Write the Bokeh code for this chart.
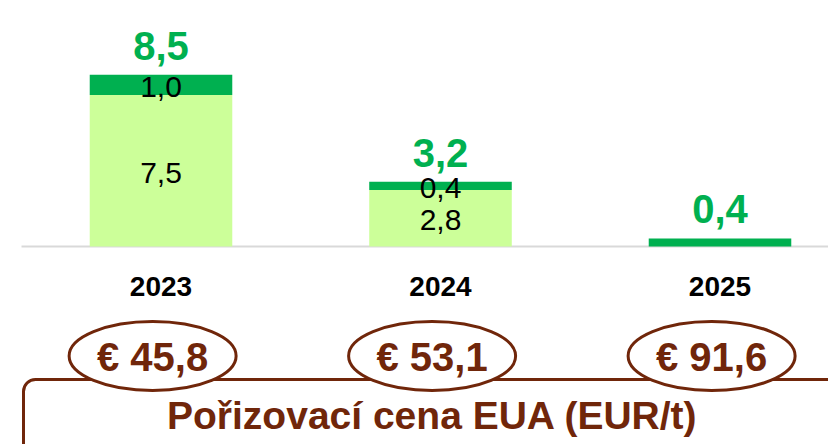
from bokeh.plotting import figure
from bokeh.models import ColumnDataSource, Range1d, BoxAnnotation
from bokeh.core.properties import value
from bokeh.embed import file_html
from bokeh.resources import INLINE

# ---- data ----
years = ["2023", "2024", "2025"]
base_vals = [7.5, 2.8, 0.0]      # light green segment
top_vals = [1.0, 0.4, 0.4]       # dark green segment
prices = [45.8, 53.1, 91.6]      # EUA purchase price (EUR/t)
title_text = "Pořizovací cena EUA (EUR/t)"

LIGHT = "#CCFF99"
DARK = "#00B050"
BROWN = "#70260A"
FONT = value("Liberation Sans")

def fmt(v):
    return f"{v:.1f}".replace(".", ",")

W, H = 828, 444
PX_X = 279.5   # px per category step
PX_Y = 20.2    # px per unit
CX0, BASE = 160.5, 246   # pixel position of first bar centre and baseline
x0 = (0 - CX0) / PX_X
x1 = (W - CX0) / PX_X
y1 = BASE / PX_Y
y0 = -(H - BASE) / PX_Y

def px_x(px):
    return (px - CX0) / PX_X

def px_y(py):
    return (BASE - py) / PX_Y

p = figure(width=W, height=H, output_backend="svg", toolbar_location=None,
           x_range=Range1d(x0, x1), y_range=Range1d(y0, y1),
           x_axis_type=None, y_axis_type=None, min_border=0,
           outline_line_color=None)
p.grid.visible = False
p.background_fill_color = "white"

xs = list(range(len(years)))
totals = [b + t for b, t in zip(base_vals, top_vals)]

# baseline
p.segment(x0=[px_x(21)], y0=[0], x1=[x1 + 1], y1=[0],
          line_color="#d9d9d9", line_width=2)

src = ColumnDataSource(dict(
    x=xs, base=base_vals, top=top_vals, total=totals,
    total_lbl=[fmt(v) for v in totals], year=years,
))
p.vbar(x="x", bottom=0, top="base", width=0.51, source=src,
       fill_color=LIGHT, line_color=None)
p.vbar(x="x", bottom="base", top="total", width=0.51, source=src,
       fill_color=DARK, line_color=None)

# inner labels (only where the light segment exists)
ix, iy, it = [], [], []
for x, b, t in zip(xs, base_vals, top_vals):
    if b > 0:
        ix += [x, x]
        iy += [b / 2, b + t / 2]
        it += [fmt(b), fmt(t)]
p.text(x=ix, y=iy, text=it, text_align="center", text_baseline="middle",
       y_offset=2, text_font=FONT, text_font_size="30px", text_color="black")

# totals
p.text(x="x", y="total", text="total_lbl", source=src, text_align="center",
       text_baseline="middle", y_offset=-29, text_font=FONT,
       text_font_size="40px", text_font_style="bold", text_color=DARK)

# year labels
p.text(x="x", y=0, text="year", source=src, text_align="center",
       text_baseline="middle", y_offset=40, text_font=FONT,
       text_font_size="28px", text_font_style="bold", text_color="black")

# rounded price box
box = BoxAnnotation(left=px_x(23), right=x1 + 1,
                    top=px_y(379), bottom=y0 - 2,
                    fill_color=None, fill_alpha=0, line_color=BROWN,
                    line_alpha=1, line_width=3,
                    border_radius=12, level="underlay")
p.add_layout(box)

# price ellipses
ey = px_y(355.5)
ex = [x - 0.03 for x in xs]
p.ellipse(x=ex, y=[ey] * len(xs), width=167, height=69,
          width_units="screen", height_units="screen",
          fill_color="white", line_color=BROWN, line_width=3)
p.text(x=ex, y=[ey] * len(xs), text=["€ " + fmt(v) for v in prices],
       text_align="center", text_baseline="middle", y_offset=1,
       text_font=FONT, text_font_size="40px", text_font_style="bold",
       text_color=BROWN)

# title inside box
p.text(x=[px_x(432)], y=[px_y(415)], text=[title_text],
       text_align="center", text_baseline="middle", text_font=FONT,
       text_font_size="39px", text_font_style="bold", text_color=BROWN)

open("out.html", "w").write(file_html(p, INLINE))
